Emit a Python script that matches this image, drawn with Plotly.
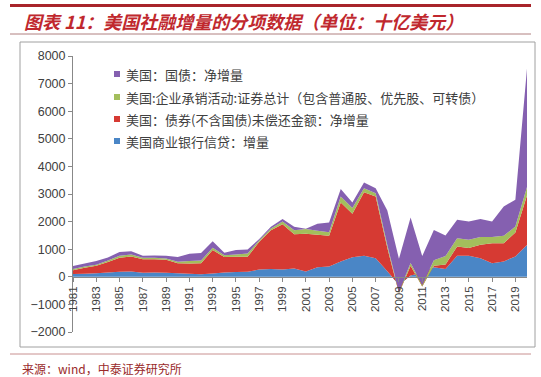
import plotly.graph_objects as go

years = list(range(1981, 2021))

bank_credit = [100, 110, 130, 160, 180, 195, 145, 160, 145, 130, 110, 95, 120, 160, 170, 180, 265, 280, 265, 300,
               190, 350, 375, 555, 710, 760, 675, 200, -300, 50, 150, 350, 280, 760, 760, 675, 495, 555, 740, 1150]
bonds_ex_gov = [140, 220, 270, 380, 510, 545, 495, 480, 470, 365, 375, 400, 850, 555, 555, 545, 1005, 1410, 1635, 1240,
                1370, 1170, 1115, 2135, 1570, 2300, 2235, 850, -300, 350, -500, 50, 170, 340, 280, 485, 725, 665, 865, 1800]
underwriting = [40, 40, 40, 50, 70, 70, 50, 50, 50, 50, 85, 95, 80, 70, 85, 120, 50, 60, 100, 150,
                170, 150, 120, 220, 210, 150, 120, 100, 50, 100, 50, 200, 300, 300, 300, 280, 220, 265, 215, 300]
treasury = [110, 110, 130, 110, 140, 120, 70, 85, 95, 170, 265, 270, 240, 85, 160, 145, 50, 60, 90, 120,
            15, 250, 360, 270, 200, 210, 180, 1250, 1200, 1650, 1050, 1100, 750, 665, 665, 650, 565, 1065, 970, 4300]

names = ["美国商业银行信贷：增量",
         "美国：债券(不含国债)未偿还金额：净增量",
         "美国:企业承销活动:证券总计（包含普通股、优先股、可转债）",
         "美国：国债：净增量"]
colors = ["#4A86C6", "#D63A33", "#A3BE5C", "#8560B0"]
series = [bank_credit, bonds_ex_gov, underwriting, treasury]

tick_years = list(range(1981, 2020, 2))
tick_text = [str(y) for y in tick_years]

W, H = 541, 377
fig = go.Figure()

for vals, nm, col in zip(series, names, colors):
    fig.add_trace(go.Scatter(x=years, y=vals, stackgroup="one", mode="none",
                             fillcolor=col, name=nm, showlegend=False,
                             hoverinfo="x+y"))

y_top, y_bot = 56, 332
ydom = [1 - y_bot / H, 1 - y_top / H]
zero_px = y_top + (y_bot - y_top) * 8000 / 10000
fig.update_layout(
    width=W, height=H,
    margin=dict(l=0, r=0, t=0, b=0, autoexpand=False),
    paper_bgcolor="white", plot_bgcolor="white",
    font=dict(family="Liberation Sans, Arial, sans-serif", color="#404040"),
    showlegend=False,
    xaxis=dict(domain=[73 / W, 527 / W], range=[1981, 2020], automargin=False,
               anchor="free", position=1 - zero_px / H,
               tickmode="array", tickvals=tick_years, ticktext=tick_text,
               tickangle=-90, ticks="outside", ticklen=4, tickcolor="#888",
               showline=True, linecolor="#888", linewidth=1,
               showgrid=False, zeroline=False,
               tickfont=dict(size=11.5, color="#404040")),
    yaxis=dict(domain=ydom, range=[-2000, 8000], dtick=1000, automargin=False,
               ticks="outside", ticklen=4, tickcolor="#888",
               showline=True, linecolor="#888", linewidth=1,
               showgrid=False, zeroline=False,
               tickfont=dict(size=12.5, color="#404040")),
)

shapes = [
    dict(type="line", xref="paper", yref="paper", x0=10 / W, x1=531 / W, y0=1 - 5.5 / H, y1=1 - 5.5 / H,
         line=dict(color="#A8242A", width=3)),
    dict(type="line", xref="paper", yref="paper", x0=10 / W, x1=531 / W, y0=1 - 34 / H, y1=1 - 34 / H,
         line=dict(color="#B08080", width=1)),
    dict(type="rect", xref="paper", yref="paper", x0=20 / W, x1=535 / W, y0=1 - 347 / H, y1=1 - 42 / H,
         line=dict(color="#A0A0A0", width=1)),
    dict(type="line", xref="paper", yref="paper", x0=10 / W, x1=531 / W, y0=1 - 354 / H, y1=1 - 354 / H,
         line=dict(color="#C89090", width=1)),
]

# legend (purple on top), drawn as squares + text
legend_rows = [74, 97, 119, 141]
for row_y, nm, col in zip(legend_rows, reversed(names), reversed(colors)):
    shapes.append(dict(type="rect", xref="paper", yref="paper",
                       x0=114 / W, x1=120 / W, y0=1 - (row_y + 3) / H, y1=1 - (row_y - 3) / H,
                       fillcolor=col, line=dict(width=0)))
    fig.add_annotation(xref="paper", yref="paper", x=124 / W, y=1 - row_y / H,
                       xanchor="left", yanchor="middle", text=nm, showarrow=False,
                       font=dict(family="Noto Sans CJK SC", size=13, color="#404040"))
fig.update_layout(shapes=shapes)

fig.add_annotation(xref="paper", yref="paper", x=22 / W, y=1 - 21 / H, xanchor="left", yanchor="middle",
                   text="图表 11：美国社融增量的分项数据（单位：十亿美元）", showarrow=False,
                   font=dict(family="Noto Sans CJK SC", size=18, color="#C0282E", weight="bold", style="italic"))
fig.add_annotation(xref="paper", yref="paper", x=20 / W, y=1 - 368 / H, xanchor="left", yanchor="middle",
                   text="来源：wind，中泰证券研究所", showarrow=False,
                   font=dict(family="Noto Sans CJK SC", size=12, color="#9A2A2A"))

fig.write_html("out.html", config={"displayModeBar": False},
               post_script="document.body.style.margin='0';document.body.style.padding='0';document.body.style.overflow='hidden';")
